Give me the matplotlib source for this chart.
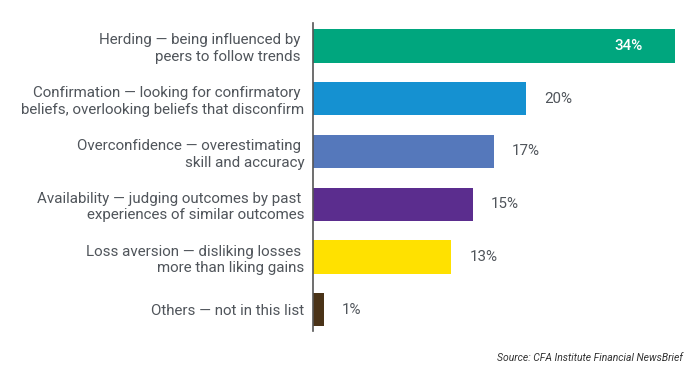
import matplotlib
matplotlib.use("Agg")
import matplotlib.pyplot as plt

labels = [
    "Herding \u2014 being influenced by \npeers to follow trends ",
    "Confirmation \u2014 looking for confirmatory \nbeliefs, overlooking beliefs that disconfirm",
    "Overconfidence \u2014 overestimating \nskill and accuracy",
    "Availability \u2014 judging outcomes by past \nexperiences of similar outcomes",
    "Loss aversion \u2014 disliking losses \nmore than liking gains",
    "Others \u2014 not in this list",
]
values = [34, 20, 17, 15, 13, 1]
colors = ["#00A67E", "#1591D1", "#5578BB", "#5B2D8E", "#FFE100", "#4A3318"]

plt.rcParams["font.family"] = ["Roboto", "DejaVu Sans"]

fig = plt.figure(figsize=(7, 3.87), dpi=100)
ax = fig.add_axes([0.447, 0.145, 0.517, 0.795])

pos = list(range(len(values)))
ax.barh(pos, values, height=0.63, color=colors)
ax.set_xlim(0, 34)
ax.set_ylim(5.4, -0.43)

ax.set_yticks(pos)
ax.set_yticklabels(labels, fontsize=10.9, color="#50555b", linespacing=1.25)
ax.tick_params(axis="y", length=0, pad=6)
ax.set_xticks([])
for side in ["top", "right", "bottom"]:
    ax.spines[side].set_visible(False)
ax.spines["left"].set_color("#555555")
ax.spines["left"].set_linewidth(1.2)

for i, v in enumerate(values):
    if i == 0:
        ax.text(v - 3, i, "%d%%" % v, ha="right", va="center",
                color="white", fontsize=10.9, fontweight="medium")
    else:
        ax.text(v + 1.7, i, "%d%%" % v, ha="left", va="center",
                color="#50555b", fontsize=10.9, clip_on=False)

fig.text(0.975, 0.075, "Source: CFA Institute Financial NewsBrief", ha="right",
         va="center", fontsize=7.5, style="italic", color="#333333")

fig.savefig("out.png", dpi=100)
